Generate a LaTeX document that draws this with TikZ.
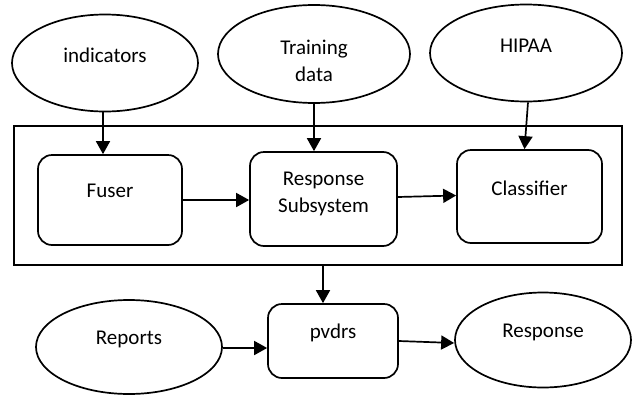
\documentclass[tikz,border=0pt]{standalone}
\usepackage{fontspec}
\setmainfont{Carlito}
\usetikzlibrary{shapes.geometric,arrows.meta}
\begin{document}
\begin{tikzpicture}[x=1pt,y=-1pt,
  every node/.style={font=\fontsize{21}{27}\selectfont},
  ell/.style={draw, ellipse, line width=1.7pt, inner sep=0pt},
  rbox/.style={draw, rectangle, rounded corners=14pt, line width=1.7pt, inner sep=0pt},
  txt/.style={align=center, inner sep=0pt},
  arr/.style={line width=1.7pt, -{Triangle[length=13pt,width=14pt]}}]
\useasboundingbox (0,0) rectangle (632,394);
% outer frame
\node[draw, rectangle, line width=1.7pt, minimum width=608pt, minimum height=139pt, inner sep=0pt] (big) at (318,195.5) {};
% ellipses
\node[ell, minimum width=186pt, minimum height=97pt] (ind) at (105,63) {};
\node[txt] (indt) at (105,55) {indicators};
\node[ell, minimum width=192pt, minimum height=98pt] (train) at (314,54) {};
\node[txt] (traint) at (314,61) {Training\\data};
\node[ell, minimum width=192pt, minimum height=97pt] (hip) at (526,53) {};
\node[txt] (hipt) at (526,46) {HIPAA};
\node[ell, minimum width=186pt, minimum height=94pt] (rep) at (129,347) {};
\node[txt] (rept) at (129,339) {Reports};
\node[ell, minimum width=176pt, minimum height=95pt] (res) at (543,340) {};
\node[txt] (rest) at (543,332) {Response};
% boxes
\node[rbox, minimum width=144pt, minimum height=90pt] (fus) at (110,200) {};
\node[txt] (fust) at (110,191) {Fuser};
\node[rbox, minimum width=147pt, minimum height=94pt] (rsub) at (323.5,199) {};
\node[txt] (rsubt) at (323.5,194) {Response\\Subsystem};
\node[rbox, minimum width=145pt, minimum height=93pt] (cls) at (529.5,196.5) {};
\node[txt] (clst) at (529.5,188) {Classifier};
\node[rbox, minimum width=130pt, minimum height=74pt] (pv) at (333,341) {};
\node[txt] (pvt) at (333,333) {pvdrs};
% arrows
\draw[arr] ([xshift=-2pt]ind.south) -- ([xshift=-2pt]ind.south |- fus.north);
\draw[arr] (train.south) -- (train.south |- rsub.north);
\draw[arr] ([xshift=2pt]hip.south) -- ([xshift=-5pt]cls.north);
\draw[arr] (fus.east) -- (fus.east -| rsub.west);
\draw[arr] ([yshift=2pt]rsub.east) -- ([yshift=1pt]cls.west);
\draw[arr] ([xshift=-10pt]pv.north |- big.south) -- ([xshift=-10pt]pv.north);
\draw[arr] ([yshift=-1pt]rep.east) -- ([yshift=-1pt]rep.east -| pv.west);
\draw[arr] (pv.east) -- ([yshift=-3pt]res.west);
\end{tikzpicture}
\end{document}
